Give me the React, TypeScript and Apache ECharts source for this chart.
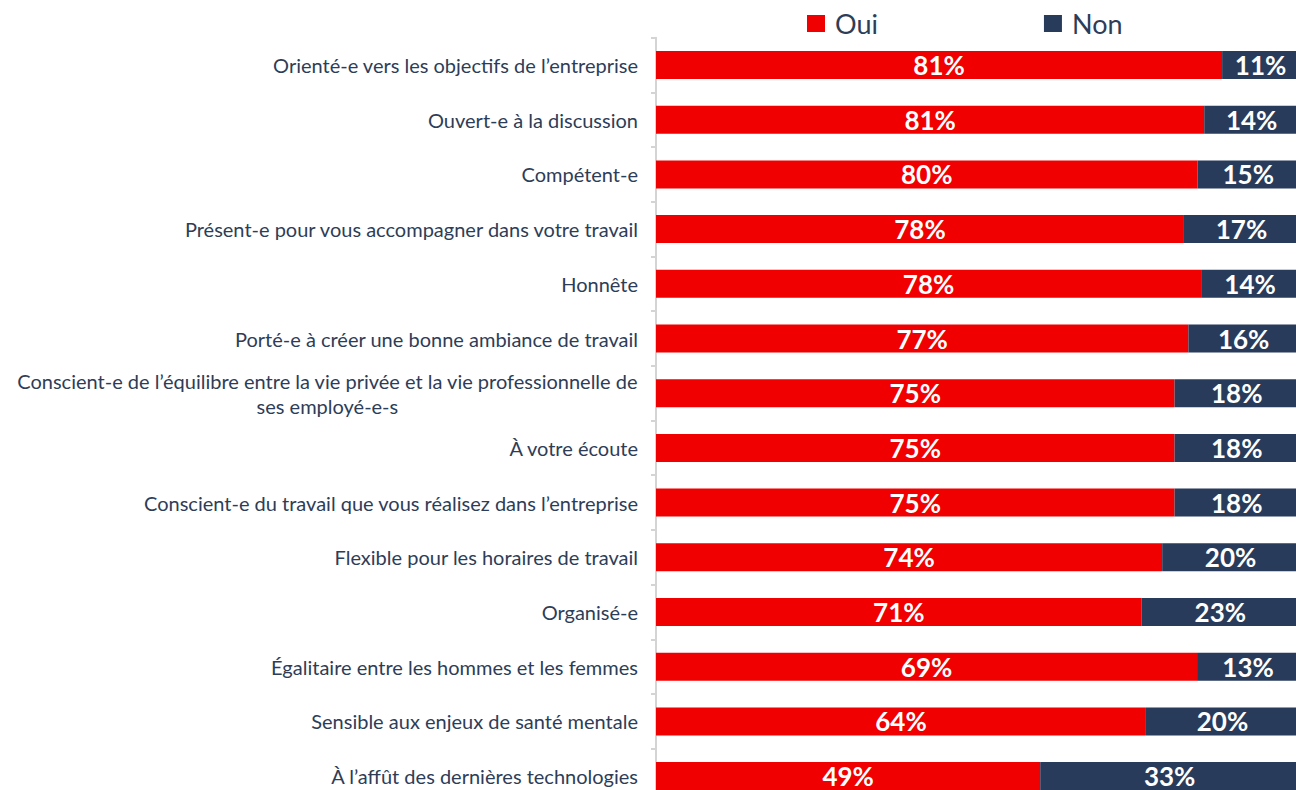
import React, { useEffect, useRef } from "react";
import * as echarts from "echarts";

const categories: string[] = [
  "Orienté-e vers les objectifs de l’entreprise",
  "Ouvert-e à la discussion",
  "Compétent-e",
  "Présent-e pour vous accompagner dans votre travail",
  "Honnête",
  "Porté-e à créer une bonne ambiance de travail",
  "Conscient-e de l’équilibre entre la vie privée et la vie professionnelle de\nses employé-e-s",
  "À votre écoute",
  "Conscient-e du travail que vous réalisez dans l’entreprise",
  "Flexible pour les horaires de travail",
  "Organisé-e",
  "Égalitaire entre les hommes et les femmes",
  "Sensible aux enjeux de santé mentale",
  "À l’affût des dernières technologies",
];

const oui: number[] = [81, 81, 80, 78, 78, 77, 75, 75, 75, 74, 71, 69, 64, 49];
const non: number[] = [11, 14, 15, 17, 14, 16, 18, 18, 18, 20, 23, 13, 20, 33];

const seriesNames = ["Oui", "Non"];
const RED = "#f00000";
const NAVY = "#283b5b";
const TEXT = "#2e3d57";

// 100% stacked: each bar is split by the share of Oui vs Non among the two answers
const ouiShare = oui.map((v, i) => (v / (v + non[i])) * 100);
const nonShare = non.map((v, i) => (v / (oui[i] + v)) * 100);

export default function App() {
  const ref = useRef<HTMLDivElement>(null);

  useEffect(() => {
    if (!ref.current) return;
    const chart = echarts.init(ref.current, undefined, { renderer: "svg" });
    const labelStyle = {
      show: true,
      position: "inside" as const,
      color: "#ffffff",
      fontFamily: "Lato",
      fontWeight: "bold" as const,
      fontSize: 26,
    };
    chart.setOption({
      animation: false,
      backgroundColor: "#ffffff",
      legend: {
        left: 802,
        top: 5,
        itemWidth: 18,
        itemHeight: 17,
        itemGap: 166,
        icon: "rect",
        data: seriesNames,
        textStyle: {
          fontFamily: "Lato",
          fontSize: 27,
          lineHeight: 27,
          color: TEXT,
          padding: [0, 0, 0, 5],
        },
      },
      grid: {
        left: 656,
        top: 37.65,
        width: 643,
        height: 765.8,
        containLabel: false,
        outerBoundsMode: "none",
      },
      xAxis: {
        type: "value",
        min: 0,
        max: 100,
        show: false,
      },
      yAxis: {
        type: "category",
        data: categories,
        inverse: true,
        offset: 2,
        axisLine: { show: true, lineStyle: { color: "#d4d4d4", width: 2 } },
        axisTick: { show: true, length: 5, lineStyle: { color: "#d4d4d4", width: 2 } },
        axisLabel: {
          margin: 16,
          fontFamily: "Lato",
          fontSize: 20,
          color: TEXT,
          lineHeight: 25,
          formatter: (v: string) =>
            v.indexOf("\n") >= 0
              ? v
                  .split("\n")
                  .map((l) => `{c|${l}}`)
                  .join("\n")
              : v,
          rich: {
            c: {
              align: "center",
              fontFamily: "Lato",
              fontSize: 20,
              color: TEXT,
              lineHeight: 25,
            },
          },
        },
      },
      series: [
        {
          name: seriesNames[0],
          type: "bar",
          stack: "total",
          barWidth: 28,
          itemStyle: { color: RED },
          data: ouiShare,
          label: { ...labelStyle, formatter: (p: any) => `${oui[p.dataIndex]}%` },
        },
        {
          name: seriesNames[1],
          type: "bar",
          stack: "total",
          barWidth: 28,
          itemStyle: { color: NAVY },
          data: nonShare,
          label: { ...labelStyle, formatter: (p: any) => `${non[p.dataIndex]}%` },
        },
      ],
    });
    return () => chart.dispose();
  }, []);

  return (
    <div
      ref={ref}
      style={{ position: "absolute", left: 0, top: 0, width: 1296, height: 790 }}
    />
  );
}
